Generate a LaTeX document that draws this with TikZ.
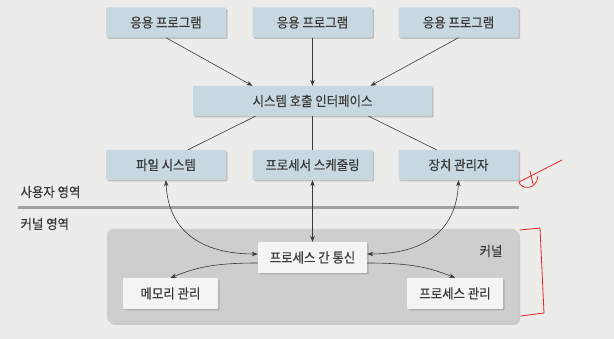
\documentclass[tikz,border=0pt]{standalone}
\usepackage{fontspec}
\newfontfamily\krfont[FakeStretch=0.92,FakeBold=0.4]{Noto Sans CJK KR}
\usetikzlibrary{arrows.meta,shadows,calc}
\definecolor{bgcol}{HTML}{ECECEA}
\definecolor{bluebox}{HTML}{C8D8E0}
\definecolor{kernelgray}{HTML}{CDCECE}
\definecolor{whitebox}{HTML}{F4F4F4}
\definecolor{inkcol}{HTML}{3A3A3A}
\definecolor{divgray}{HTML}{A2A2A2}
\definecolor{annot}{HTML}{E02828}

\begin{document}
\begin{tikzpicture}[x=1pt, y=-1pt, >={Stealth[length=6pt,width=4.5pt]},
    every node/.style={font=\krfont\fontsize{13.5}{15}\selectfont, text=inkcol},
    userbox/.style={fill=bluebox, rounded corners=1pt, minimum width=120pt, minimum height=30pt, inner sep=0pt,
        drop shadow={shadow xshift=1.5pt, shadow yshift=-1.5pt, opacity=0.4}},
    kernbox/.style={fill=whitebox, rounded corners=1pt, minimum height=31pt, inner sep=0pt,
        drop shadow={shadow xshift=1.5pt, shadow yshift=-1.5pt, opacity=0.4}},
    link/.style={draw=inkcol, line width=0.6pt}]
    % background
    \fill[bgcol] (0,0) rectangle (614,339);

    % user area
    \node[userbox] (app1) at (166,22.5) {응용 프로그램};
    \node[userbox] (app2) at (312.5,22.5) {응용 프로그램};
    \node[userbox] (app3) at (458.5,22.5) {응용 프로그램};
    \node[userbox, minimum width=239pt] (sys) at (312.5,101) {시스템 호출 인터페이스};
    \node[userbox] (fs) at (166,165) {파일 시스템};
    \node[userbox] (sched) at (312.5,165) {프로세서 스케줄링};
    \node[userbox] (dev) at (458.5,165) {장치 관리자};

    \draw[link, ->] (app1.south) -- ($(sys.north)+(-60,0)$);
    \draw[link, ->] (app2.south) -- (sys.north);
    \draw[link, ->] (app3.south) -- ($(sys.north)+(58,0)$);
    \draw[link] ($(sys.south)+(-57,0)$) -- ($(fs.north)+(22,0)$);
    \draw[link] (sys.south) -- (sched.north);
    \draw[link] ($(sys.south)+(56,0)$) -- ($(dev.north)+(-22,0)$);

    % divider
    \node[anchor=west] (userlbl) at (17,192) {사용자 영역};
    \draw[divgray, line width=3pt] (18,208) -- (519,208);
    \node[anchor=west] (kernlbl) at (17,224) {커널 영역};

    % kernel area
    \node[fill=kernelgray, rounded corners=6pt, minimum width=411pt, minimum height=94pt,
        drop shadow={shadow xshift=2pt, shadow yshift=-2pt, opacity=0.3}] (kernel) at (312.5,276) {};
    \node (kerntitle) at (491,251) {커널};
    \node[kernbox, minimum width=109pt] (ipc) at (312.5,257.5) {프로세스 간 통신};
    \node[kernbox, minimum width=95pt] (mem) at (170.5,293.5) {메모리 관리};
    \node[kernbox, minimum width=96pt] (pm) at (455,293.5) {프로세스 관리};

    \draw[link, <->] (fs.south) .. controls +(2,52) and +(-55,0) .. ($(ipc.west)+(0,-3.5)$);
    \draw[link, <->] (sched.south) -- (ipc.north);
    \draw[link, <->] (dev.south) .. controls +(-2,52) and +(55,0) .. ($(ipc.east)+(0,-3.5)$);
    \draw[link, ->] ($(ipc.west)+(0,5.5)$) .. controls +(-45,0) and +(25,-10) .. (mem.north);
    \draw[link, ->] ($(ipc.east)+(0,5.5)$) .. controls +(45,0) and +(-25,-10) .. (pm.north);

    % red marks
    \draw[annot, line width=0.8pt, line cap=round, line join=round]
        (562,160) -- (519,182) .. controls (521,190) and (537,190) .. (538,176);
    \draw[annot, line width=0.8pt, line cap=round] (530,171) -- (533,184);
    \draw[annot, line width=0.8pt, line cap=round, line join=round]
        (520,230) -- (540,228) -- (544,313) -- (521,316);
\end{tikzpicture}
\end{document}
